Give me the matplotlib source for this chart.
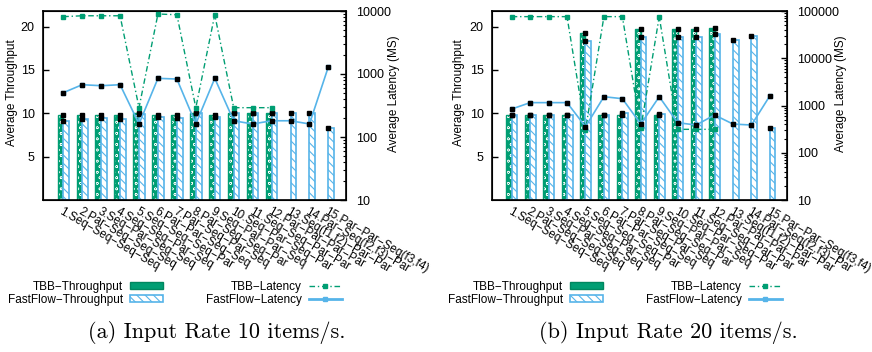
import numpy as np
import matplotlib
matplotlib.use('Agg')
import matplotlib.pyplot as plt
from matplotlib.patches import Patch
from matplotlib.lines import Line2D
from matplotlib.ticker import FixedLocator, FuncFormatter, LogLocator, NullFormatter

plt.rcParams['font.family'] = ['Liberation Sans', 'DejaVu Sans']
plt.rcParams['font.size'] = 8.5

# category labels (same for both panels)
categories = ['1.Seq\u2212Seq\u2212Seq\u2212Seq', '2.Par\u2212Seq\u2212Seq\u2212Seq',
              '3.Seq\u2212Par\u2212Seq\u2212Seq', '4.Seq\u2212Seq\u2212Par\u2212Seq',
              '5.Seq\u2212Seq\u2212Seq\u2212Par', '6.Par\u2212Par\u2212Seq\u2212Seq',
              '7.Par\u2212Seq\u2212Par\u2212Seq', '8.Par\u2212Seq\u2212Seq\u2212Par',
              '9.Seq\u2212Par\u2212Par\u2212Seq', '10.Seq\u2212Par\u2212Seq\u2212Par',
              '11.Seq\u2212Seq\u2212Par\u2212Par', '12.Par\u2212Par\u2212Par\u2212Par',
              '13.Seq(f1,f2)\u2212Par\u2212Par', '14.Par\u2212Seq(f2,f3)\u2212Par',
              '15.Par\u2212Par\u2212Seq(f3,f4)']

nan = np.nan

# (a) input rate 10 items/s
a_tbb_thr = [9.8, 9.8, 9.8, 9.8, 10.05, 9.75, 9.75, 10.05, 9.75, 10.05, 10.05, 10.05, nan, nan, nan]
a_ff_thr = [9.15, 9.35, 9.5, 9.35, 9.9, 9.6, 9.5, 10.0, 9.6, 10.0, 10.0, 10.0, 10.0, 10.0, 8.3]
a_tbb_lat = [8130, 8400, 8400, 8400, 292, 8960, 8720, 292, 8720, 292, 292, 292, nan, nan, nan]
a_ff_lat = [505, 676, 652, 676, 161, 853, 832, 161, 853, 181, 161, 181, 181, 161, 1306]

# (b) input rate 20 items/s
b_tbb_thr = [9.8, 9.85, 9.85, 9.85, 19.3, 9.85, 9.85, 19.75, 9.85, 19.75, 19.75, 19.8, nan, nan, nan]
b_ff_thr = [9.8, 9.85, 9.85, 9.85, 18.3, 9.85, 10.0, 18.75, 9.95, 18.85, 18.85, 19.2, 18.5, 18.9, 8.3]
b_tbb_lat = [76000, 76000, 76000, 76000, 302, 76000, 76000, 329, 76000, 313, 313, 313, nan, nan, nan]
b_ff_lat = [843, 1150, 1150, 1150, 356, 1535, 1393, 405, 1535, 433, 386, 630, 405, 386, 1600]

green = '#009e73'
blue = '#56b4e9'
W, H = 872.0, 352.0


def panel(fig, left_px, right_px, tbb_thr, ff_thr, tbb_lat, ff_lat, lat_max, lat_ticks,
          ylab_x, y2lab_x, leg_x, caption, cap_x):
    top_px, bot_px = 11, 200
    ax = fig.add_axes([left_px / W, 1 - bot_px / H, (right_px - left_px) / W, (bot_px - top_px) / H])
    x = np.arange(1, len(categories) + 1)
    tbb = np.array(tbb_thr)
    ff = np.array(ff_thr)
    m = ~np.isnan(tbb)
    bw = 0.3
    # TBB bars: green with small white dots
    plt.rcParams['hatch.linewidth'] = 0.35
    ax.bar(x[m] - bw / 2, tbb[m], bw, facecolor=green, edgecolor='white', hatch='ooo', linewidth=0)
    ax.bar(x[m] - bw / 2, tbb[m], bw, facecolor='none', edgecolor=green, linewidth=1.0)
    # FastFlow bars: white with blue hatch
    plt.rcParams['hatch.linewidth'] = 0.8
    ax.bar(x + bw / 2, ff, bw, facecolor='white', edgecolor=blue, hatch='\\\\\\\\', linewidth=1.2)
    ax.plot(x, tbb, 's', color='k', ms=3.4, zorder=5)
    ax.plot(x, ff, 's', color='k', ms=3.4, zorder=5)
    ax.set_xlim(-0.07, 15.93)
    ax.set_ylim(0, 21.8)
    ax.set_yticks([5, 10, 15, 20])
    ax.tick_params(axis='y', direction='in', length=4, width=1, pad=6, labelsize=9)
    ax.set_xticks(x)
    ax.set_xticklabels(categories, rotation=-30, ha='left', va='top', rotation_mode='anchor', fontsize=8.5)
    ax.tick_params(axis='x', length=0, pad=4)
    for s in ax.spines.values():
        s.set_linewidth(1.2)
    ax.set_ylabel('Average Throughput', fontsize=8.5)
    ax.yaxis.set_label_coords(ylab_x, 0.57)

    ax2 = ax.twinx()
    ax2.set_yscale('log')
    ax2.set_ylim(10, lat_max)
    ax2.plot(x, tbb_lat, color=green, lw=1.0, ls=(0, (4, 2, 1, 2)), marker='s', ms=2.8, zorder=3)
    ax2.plot(x, ff_lat, color=blue, lw=1.2, marker='s', ms=2.8, zorder=3)
    ax2.plot(x, ff_lat, 's', color='k', ms=3.4, zorder=6)
    ax2.yaxis.set_major_locator(FixedLocator(lat_ticks))
    ax2.yaxis.set_major_formatter(FuncFormatter(lambda v, p: '%d' % round(v)))
    ax2.yaxis.set_minor_locator(LogLocator(base=10, subs=np.arange(2, 10)))
    ax2.yaxis.set_minor_formatter(NullFormatter())
    ax2.tick_params(axis='y', which='major', direction='in', length=4, width=1, pad=7, labelsize=9)
    ax2.tick_params(axis='y', which='minor', direction='in', length=2, width=0.8)
    ax2.set_ylabel('Average Latency (MS)', fontsize=8.5)
    ax2.yaxis.set_label_coords(y2lab_x, 0.56)

    # legend in gnuplot style: text then sample
    h_tbb = Patch(facecolor=green, edgecolor='#00875f', linewidth=1.0)
    h_ff = Patch(facecolor='white', edgecolor=blue, hatch='\\\\\\\\', linewidth=1.2)
    h_tl = Line2D([], [], color=green, lw=1.0, ls=(0, (4, 2, 1, 2)), marker='s', ms=2.8)
    h_fl = Line2D([], [], color=blue, lw=2.0, marker='s', ms=2.8)
    fig.legend([h_tbb, h_ff, h_tl, h_fl],
               ['TBB\u2212Throughput', 'FastFlow\u2212Throughput', 'TBB\u2212Latency', 'FastFlow\u2212Latency'],
               ncol=2, markerfirst=False, frameon=False, loc='upper left',
               bbox_to_anchor=(leg_x / W, 1 - 281 / H), borderpad=0, borderaxespad=0,
               handlelength=2.8, handleheight=0.55, handletextpad=0.6, labelspacing=0.05,
               columnspacing=3.6, fontsize=8.5)

    fig.text(cap_x / W, 1 - 333 / H, caption, ha='center', va='center',
             family='cmr10', fontsize=16)


fig = plt.figure(figsize=(8.72, 3.52), dpi=100)
panel(fig, 43, 346, a_tbb_thr, a_ff_thr, a_tbb_lat, a_ff_lat, 10000, [10, 100, 1000, 10000],
      -0.083, 1.139, 8, '(a) Input Rate 10 items/s.', 217)
panel(fig, 492, 787, b_tbb_thr, b_ff_thr, b_tbb_lat, b_ff_lat, 100000, [10, 100, 1000, 10000, 100000],
      -0.092, 1.163, 448, '(b) Input Rate 20 items/s.', 668)
fig.savefig('out.png', dpi=100)
